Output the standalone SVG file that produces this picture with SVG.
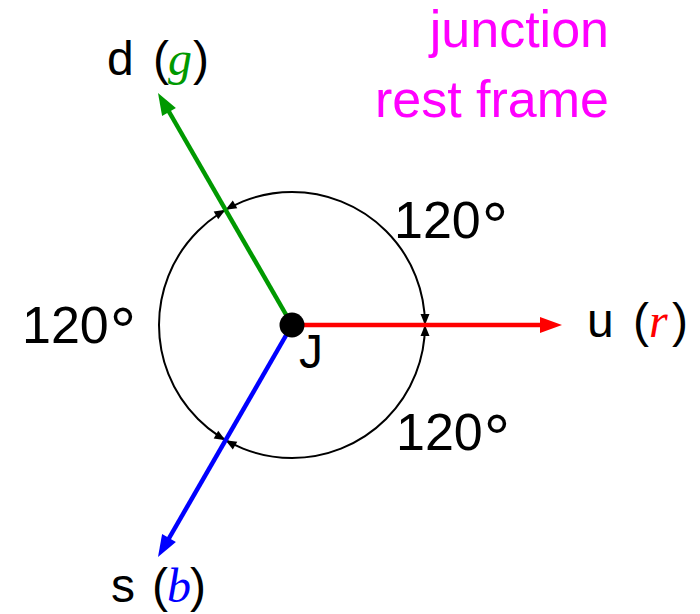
<svg xmlns="http://www.w3.org/2000/svg" width="700" height="614" viewBox="0 0 700 614">
<style>
.t{font-family:"Liberation Sans","DejaVu Sans",sans-serif;font-size:48px;fill:#000}
.m{font-family:"Liberation Serif","DejaVu Serif",serif;font-style:italic;font-size:48px}
.mag{font-family:"Liberation Sans","DejaVu Sans",sans-serif;font-size:52px;fill:#ff00ff;text-anchor:end}
.ang{font-family:"Liberation Sans","DejaVu Sans",sans-serif;font-size:52px;fill:#000}
.deg{font-size:66px}
</style>
<rect width="700" height="614" fill="#fff"/>
<g id="arc-circle">
<circle cx="292" cy="325" r="133" fill="none" stroke="#000" stroke-width="2"/>
<polygon points="425,325 420.5,336 429.5,336" fill="#000"/>
<polygon points="425,325 420.5,314 429.5,314" fill="#000"/>
<polygon points="225.5,209.8 237.3,208.2 232.8,200.4" fill="#000"/>
<polygon points="225.5,209.8 218.2,219.2 213.7,211.4" fill="#000"/>
<polygon points="225.5,440.2 218.2,430.8 213.7,438.6" fill="#000"/>
<polygon points="225.5,440.2 237.3,441.8 232.8,449.6" fill="#000"/>
</g>
<g id="connectors">
<line x1="292" y1="325" x2="543" y2="325" stroke="#ff0000" stroke-width="4.5"/>
<polygon points="562,325 540,317 540,333" fill="#ff0000"/>
<line x1="292" y1="325" x2="168" y2="110" stroke="#009900" stroke-width="4.5"/>
<polygon points="158,92.9 175.9,108 162.1,116" fill="#009900"/>
<line x1="292" y1="325" x2="168" y2="540" stroke="#0000ff" stroke-width="4.5"/>
<polygon points="158,557.1 175.9,542 162.1,534" fill="#0000ff"/>
</g>
<g id="J">
<circle cx="292" cy="325" r="12.5" fill="#000"/>
<text class="t" x="299" y="368">J</text>
</g>
<g id="d">
<text class="t" y="75"><tspan x="107">d</tspan><tspan x="153">(</tspan><tspan class="m" x="168" fill="#009900">g</tspan><tspan x="193">)</tspan></text>
</g>
<g id="s">
<text class="t" y="602"><tspan x="111">s</tspan><tspan x="152">(</tspan><tspan class="m" x="167" fill="#0000ff">b</tspan><tspan x="190">)</tspan></text>
</g>
<g id="u">
<text class="t" y="337"><tspan x="587">u</tspan><tspan x="633">(</tspan><tspan class="m" x="649" fill="#ff0000">r</tspan><tspan x="672">)</tspan></text>
</g>
<g id="labels">
<text class="mag" x="609" y="47">junction</text>
<text class="mag" x="609" y="117">rest frame</text>
<text class="ang" x="394" y="238">120<tspan class="deg" dx="1" dy="11">°</tspan></text>
<text class="ang" x="22" y="343">120<tspan class="deg" dx="1" dy="11">°</tspan></text>
<text class="ang" x="396" y="450">120<tspan class="deg" dx="1" dy="11">°</tspan></text>
</g>
</svg>
